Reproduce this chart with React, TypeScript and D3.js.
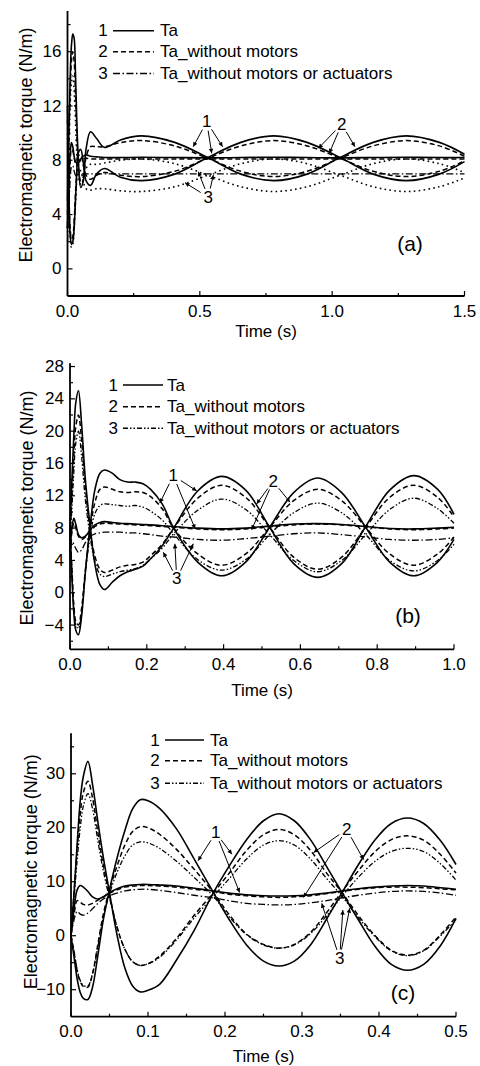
import React from 'react';
import * as d3 from 'd3';

// ---------------- DATA ----------------
const LEGEND_LABELS = ['Ta', 'Ta_without motors', 'Ta_without motors or actuators'];

// Panel (a)
const TIME_A = [0, 0.005, 0.01, 0.015, 0.02, 0.025, 0.03, 0.035, 0.04, 0.05, 0.06, 0.07, 0.087, 0.11, 0.14, 0.2, 0.28, 0.405, 0.53, 0.655, 0.78, 0.905, 1.03, 1.155, 1.28, 1.405, 1.5];
const A_TA_1 = [5, 10, 14, 16.5, 17.3, 17.0, 14.5, 11, 8.5, 6.0, 6.5, 8.8, 10.1, 9.6, 8.95, 9.5, 9.8, 9.32, 8.2, 6.98, 6.5, 6.98, 8.2, 9.32, 9.8, 9.32, 8.45];
const A_TA_2 = [12, 6, 2.5, 1.8, 2.0, 3.0, 5.0, 7.0, 8.5, 8.8, 7.8, 6.5, 6.15, 7.0, 7.4, 6.75, 6.5, 6.98, 8.2, 9.32, 9.8, 9.32, 8.2, 6.98, 6.5, 6.98, 7.9];
const A_TA_3 = [3, 6, 8.5, 9.3, 9.0, 8.3, 7.9, 7.8, 7.9, 8.1, 8.3, 8.4, 8.3, 8.25, 8.2, 8.2, 8.22, 8.2, 8.18, 8.2, 8.22, 8.2, 8.18, 8.2, 8.22, 8.2, 8.2];
const A_WM_1 = [4, 9, 13, 15.3, 16.0, 15.3, 13, 10, 8, 6.5, 6.8, 8.2, 9.0, 9.0, 9.0, 9.3, 9.45, 9.06, 8.15, 7.19, 6.8, 7.19, 8.15, 9.06, 9.45, 9.06, 8.3];
const A_WM_2 = [11, 6, 3, 2.2, 2.4, 3.5, 5.5, 7.2, 8.3, 8.4, 7.6, 6.9, 6.6, 6.9, 7.1, 6.9, 6.8, 7.19, 8.15, 9.06, 9.45, 9.06, 8.15, 7.19, 6.8, 7.19, 7.95];
const A_WM_3 = [3, 5.5, 7.8, 8.8, 8.7, 8.2, 7.8, 7.7, 7.8, 8.0, 8.1, 8.15, 8.1, 8.1, 8.1, 8.1, 8.1, 8.1, 8.1, 8.1, 8.1, 8.1, 8.1, 8.1, 8.1, 8.1, 8.1];
const A_WMA_1 = [3, 8, 12, 13.8, 14.2, 13.2, 11, 8.5, 7, 6.2, 6.5, 7.4, 7.7, 7.7, 7.8, 8.0, 8.1, 7.75, 6.9, 6.05, 5.7, 6.05, 6.9, 7.75, 8.1, 7.75, 7.1];
const A_WMA_2 = [10, 5, 2.5, 1.6, 1.8, 3, 4.8, 6.5, 7.4, 7.2, 6.4, 5.9, 5.8, 5.9, 5.9, 5.75, 5.7, 6.05, 6.9, 7.75, 8.1, 7.75, 6.9, 6.05, 5.7, 6.05, 6.7];
const A_WMA_3 = [2, 4.5, 6.5, 7.5, 7.6, 7.2, 6.9, 6.8, 6.9, 7.0, 7.0, 7.0, 7.0, 7.0, 7.0, 7.0, 7.0, 7.0, 7.0, 7.0, 7.0, 7.0, 7.0, 7.0, 7.0, 7.0, 7.0];

// Panel (b)
const TIME_B = [0, 0.005, 0.01, 0.015, 0.022, 0.03, 0.04, 0.053, 0.065, 0.078, 0.09, 0.11, 0.13, 0.15, 0.17, 0.19, 0.21, 0.24, 0.27, 0.3325, 0.395, 0.4575, 0.52, 0.5825, 0.645, 0.7075, 0.77, 0.8325, 0.895, 0.9575, 1.0];
const B_TA_1 = [8, 14, 19.5, 23.5, 25.0, 21, 14, 8, 3.5, 1.0, 0.4, 1.3, 2.1, 2.6, 2.9, 3.3, 4.2, 5.8, 8.0, 12.6, 14.4, 12.7, 8.1, 3.6, 1.9, 3.6, 8.2, 12.7, 14.5, 12.8, 9.7];
const B_TA_2 = [8, 2, -2.5, -4.6, -5.2, -3, 2.5, 8.5, 12.8, 14.8, 15.2, 14.8, 14.0, 13.7, 13.7, 13.5, 12.8, 11.0, 8.0, 3.8, 2.1, 3.8, 8.1, 12.4, 14.2, 12.4, 8.1, 3.8, 2.1, 3.8, 6.6];
const B_TA_3 = [5, 8, 9.2, 8.5, 7.2, 6.8, 7.0, 7.8, 8.4, 8.7, 8.8, 8.7, 8.6, 8.55, 8.5, 8.45, 8.4, 8.3, 8.2, 8.0, 7.9, 8.0, 8.25, 8.5, 8.55, 8.45, 8.2, 7.95, 7.9, 8.0, 8.1];
const B_WM_1 = [7, 12, 17, 20.5, 22.0, 19, 13, 7.5, 4.5, 2.9, 2.5, 2.8, 3.2, 3.4, 3.5, 3.8, 4.6, 6.0, 8.0, 11.7, 13.3, 11.8, 8.1, 4.4, 2.9, 4.4, 8.1, 11.8, 13.3, 11.8, 9.4];
const B_WM_2 = [8, 3, -1.5, -3.5, -4.0, -2, 2.8, 8.0, 11.2, 12.8, 13.1, 12.8, 12.5, 12.4, 12.5, 12.4, 11.9, 10.4, 8.0, 4.8, 3.4, 4.8, 8.1, 11.4, 12.8, 11.4, 8.1, 4.8, 3.4, 4.8, 6.9];
const B_WM_3 = [5, 7.5, 8.6, 8.0, 7.0, 6.6, 6.9, 7.6, 8.2, 8.5, 8.6, 8.55, 8.5, 8.45, 8.4, 8.35, 8.3, 8.2, 8.1, 7.9, 7.8, 7.9, 8.15, 8.4, 8.5, 8.4, 8.15, 7.9, 7.8, 7.9, 8.0];
const B_WMA_1 = [6, 10.5, 15, 18.5, 20.0, 17, 11.5, 6.8, 3.8, 2.3, 2.0, 2.3, 2.6, 2.8, 3.0, 3.4, 4.2, 5.5, 7.3, 10.2, 11.6, 10.3, 7.2, 4.0, 2.6, 4.0, 7.2, 10.3, 11.7, 10.4, 8.6];
const B_WMA_2 = [7, 2.5, -2, -4, -4.4, -2.5, 2.5, 7.2, 9.8, 10.8, 11.0, 10.9, 10.8, 10.7, 10.8, 10.6, 10.1, 9.0, 7.3, 4.1, 2.8, 4.1, 7.2, 9.9, 11.1, 9.9, 7.2, 4.0, 2.7, 4.0, 6.0];
const B_WMA_3 = [4, 6.5, 6.0, 5.5, 5.0, 5.3, 6.2, 7.0, 7.3, 7.4, 7.5, 7.5, 7.5, 7.4, 7.4, 7.3, 7.2, 7.0, 6.9, 6.6, 6.5, 6.7, 7.0, 7.3, 7.4, 7.2, 6.9, 6.6, 6.5, 6.6, 6.8];

// Panel (c)
const TIME_C = [0, 0.004, 0.008, 0.012, 0.016, 0.022, 0.028, 0.035, 0.042, 0.05, 0.06, 0.07, 0.08, 0.09, 0.1, 0.115, 0.137, 0.16, 0.185, 0.205, 0.228, 0.25, 0.27, 0.29, 0.311, 0.332, 0.352, 0.373, 0.395, 0.416, 0.437, 0.458, 0.48, 0.5];
const C_TA_1 = [0, 8, 17, 25, 29.5, 32.3, 28, 21, 14.5, 8.0, 0, -6, -9.3, -10.4, -10.1, -9.0, -4.5, 1.0, 8.0, 12.8, 17.8, 21.3, 22.6, 21.3, 17.8, 12.8, 8.0, 3.0, -2.0, -5.3, -6.4, -5.3, -1.8, 3.2];
const C_TA_2 = [0, -4, -8, -10.5, -11.6, -11.8, -9.5, -3.5, 3.0, 8.5, 14.5, 19.5, 23.5, 25.2, 25.0, 23.6, 19.8, 14.2, 8.0, 3.1, -1.7, -4.7, -5.6, -4.7, -1.7, 3.1, 8.0, 13.1, 17.8, 20.8, 21.8, 20.8, 17.6, 13.2];
const C_TA_3 = [0, 5, 8.5, 9.3, 9.0, 8.2, 7.2, 6.8, 7.2, 8.0, 8.7, 9.2, 9.4, 9.5, 9.5, 9.4, 9.2, 8.8, 8.3, 7.9, 7.6, 7.4, 7.35, 7.4, 7.6, 7.9, 8.3, 8.7, 9.0, 9.2, 9.3, 9.2, 8.9, 8.6];
const C_WM_1 = [0, 8, 16, 22.5, 26.5, 28.6, 25.5, 19, 13, 7.5, 1.5, -2.5, -4.8, -5.5, -5.2, -3.8, -0.5, 3.8, 8.0, 11.5, 15.8, 18.7, 19.7, 18.7, 15.8, 11.6, 8.0, 3.8, 0.0, -2.7, -3.6, -2.7, 0.2, 3.5];
const C_WM_2 = [0, -3, -6.5, -8.5, -9.4, -9.5, -7, -1.5, 4.0, 8.5, 13, 16.8, 19.3, 20.2, 20.0, 18.8, 16.0, 12.3, 8.0, 4.0, 0.3, -1.6, -2.3, -1.6, 0.6, 4.3, 8.2, 12.0, 15.6, 17.8, 18.5, 17.7, 15.0, 11.6];
const C_WM_3 = [0, 4, 6.5, 6.2, 5.8, 5.7, 6.0, 6.6, 7.2, 7.9, 8.5, 9.0, 9.2, 9.3, 9.3, 9.2, 9.0, 8.6, 8.2, 7.7, 7.4, 7.2, 7.1, 7.2, 7.4, 7.8, 8.2, 8.6, 8.9, 9.0, 9.0, 8.9, 8.7, 8.5];
const C_WMA_1 = [0, 7, 14, 20, 24, 26.3, 23.5, 17.5, 12, 7.0, 1.5, -2.5, -4.8, -5.5, -5.2, -4.0, -0.8, 3.3, 7.3, 10.5, 14.2, 16.8, 17.6, 16.8, 14.2, 10.6, 7.3, 3.4, -0.2, -2.8, -3.7, -2.8, 0.0, 3.0];
const C_WMA_2 = [0, -3, -6.3, -8.3, -9.2, -9.3, -7, -2, 3.5, 7.8, 11.8, 14.8, 16.8, 17.4, 17.2, 16.2, 13.8, 10.8, 7.3, 3.6, 0.2, -1.7, -2.3, -1.7, 0.4, 3.7, 7.3, 10.8, 13.8, 15.6, 16.2, 15.6, 13.3, 10.3];
const C_WMA_3 = [0, 3, 4.5, 4.0, 3.8, 4.2, 5.0, 6.0, 6.8, 7.4, 7.9, 8.3, 8.5, 8.6, 8.6, 8.4, 8.0, 7.5, 7.0, 6.5, 6.0, 5.8, 5.7, 5.8, 6.1, 6.5, 7.0, 7.5, 7.9, 8.2, 8.3, 8.2, 7.9, 7.5];

// Ticks
const A_X_TICKS = [0, 0.5, 1.0, 1.5];
const A_X_MINOR = [0.25, 0.75, 1.25];
const A_Y_TICKS = [0, 4, 8, 12, 16];
const A_Y_MINOR = [2, 6, 10, 14, 18];
const B_X_TICKS = [0, 0.2, 0.4, 0.6, 0.8, 1.0];
const B_X_MINOR = [0.1, 0.3, 0.5, 0.7, 0.9];
const B_Y_TICKS = [-4, 0, 4, 8, 12, 16, 20, 24, 28];
const B_Y_MINOR = [-6, -2, 2, 6, 10, 14, 18, 22, 26];
const C_X_TICKS = [0, 0.1, 0.2, 0.3, 0.4, 0.5];
const C_X_MINOR = [0.05, 0.15, 0.25, 0.35, 0.45];
const C_Y_TICKS = [-10, 0, 10, 20, 30];
const C_Y_MINOR = [-5, 5, 15, 25, 35];

// Annotations (data units): label position and arrow targets
const A_NOTES = [
  { text: '1', at: [0.526, 10.84], to: [[0.475, 9.0], [0.545, 8.51], [0.586, 9.0]] },
  { text: '2', at: [1.036, 10.67], to: [[0.948, 8.88], [0.989, 8.51], [1.086, 9.0]] },
  { text: '3', at: [0.532, 5.27], to: [[0.444, 6.35], [0.494, 7.16], [0.551, 6.92]] },
];
const B_NOTES = [
  { text: '1', at: [0.269, 14.5], to: [[0.234, 11.1], [0.326, 7.9], [0.33, 12.6]] },
  { text: '2', at: [0.529, 13.8], to: [[0.486, 11.0], [0.473, 7.8], [0.573, 11.2]] },
  { text: '3', at: [0.278, 1.73], to: [[0.243, 5.0], [0.273, 6.06], [0.321, 6.06]] },
];
const C_NOTES = [
  { text: '1', at: [0.188, 19.1], to: [[0.165, 13.9], [0.219, 8.0], [0.209, 15.1]] },
  { text: '2', at: [0.358, 19.7], to: [[0.315, 15.4], [0.302, 7.1], [0.38, 14.1]] },
  { text: '3', at: [0.349, -4.2], to: [[0.3256, 6.0], [0.353, 4.76], [0.362, 5.1]] },
];

// ---------------- STYLE ----------------
const FONT = "'Liberation Sans', Arial, Helvetica, sans-serif";
const STYLES: Record<string, { dash?: string; w: number }> = {
  solid: { w: 1.6 },
  dashed: { dash: '5,3', w: 1.5 },
  dotted: { dash: '1.6,3.3', w: 1.6 },
  dashdot: { dash: '7,2.5,1.5,2.5', w: 1.3 },
  dashdotdot: { dash: '5,2,1.5,2,1.5,2', w: 1.3 },
};

type Note = { text: string; at: number[]; to: number[][] };
type Cfg = {
  time: number[];
  curves: { v: number[]; s: string }[];
  xDomain: [number, number]; yDomain: [number, number];
  xRange: [number, number]; yRange: [number, number];
  xTicks: number[]; xMinor: number[]; yTicks: number[]; yMinor: number[];
  yLabel: [number, number]; xLabelY: number;
  legend: { numX: number; l1: number; l2: number; tx: number; ys: number[]; s3: string };
  letter: { t: string; x: number; y: number };
  notes: Note[];
};

const PANELS: Cfg[] = [
  {
    time: TIME_A,
    curves: [
      { v: A_WMA_3, s: 'dashdot' }, { v: A_WMA_1, s: 'dotted' }, { v: A_WMA_2, s: 'dotted' },
      { v: A_WM_3, s: 'dashed' }, { v: A_WM_1, s: 'dashed' }, { v: A_WM_2, s: 'dashed' },
      { v: A_TA_3, s: 'solid' }, { v: A_TA_1, s: 'solid' }, { v: A_TA_2, s: 'solid' },
    ],
    xDomain: [0, 1.5], yDomain: [-2, 19], xRange: [67.5, 464.5], yRange: [296, 11],
    xTicks: A_X_TICKS, xMinor: A_X_MINOR, yTicks: A_Y_TICKS, yMinor: A_Y_MINOR,
    yLabel: [26, 145], xLabelY: 331,
    legend: { numX: 103, l1: 113, l2: 154, tx: 160, ys: [30.7, 51.7, 73.5], s3: 'dashdot' },
    letter: { t: '(a)', x: 410, y: 243 },
    notes: A_NOTES,
  },
  {
    time: TIME_B,
    curves: [
      { v: B_WMA_3, s: 'dashdot' }, { v: B_WMA_1, s: 'dashdotdot' }, { v: B_WMA_2, s: 'dashdotdot' },
      { v: B_WM_3, s: 'dashed' }, { v: B_WM_1, s: 'dashed' }, { v: B_WM_2, s: 'dashed' },
      { v: B_TA_3, s: 'solid' }, { v: B_TA_1, s: 'solid' }, { v: B_TA_2, s: 'solid' },
    ],
    xDomain: [0, 1.0], yDomain: [-7, 28.4], xRange: [70, 454], yRange: [649.3, 363.3],
    xTicks: B_X_TICKS, xMinor: B_X_MINOR, yTicks: B_Y_TICKS, yMinor: B_Y_MINOR,
    yLabel: [26.5, 508], xLabelY: 690,
    legend: { numX: 113.3, l1: 123, l2: 163, tx: 167, ys: [385, 406.7, 428.3], s3: 'dashdotdot' },
    letter: { t: '(b)', x: 408, y: 615 },
    notes: B_NOTES,
  },
  {
    time: TIME_C,
    curves: [
      { v: C_WMA_3, s: 'dashdot' }, { v: C_WMA_1, s: 'dashdotdot' }, { v: C_WMA_2, s: 'dashdotdot' },
      { v: C_WM_3, s: 'dashed' }, { v: C_WM_1, s: 'dashed' }, { v: C_WM_2, s: 'dashed' },
      { v: C_TA_3, s: 'solid' }, { v: C_TA_1, s: 'solid' }, { v: C_TA_2, s: 'solid' },
    ],
    xDomain: [0, 0.5], yDomain: [-15, 37.5], xRange: [71, 456], yRange: [1016.7, 733.3],
    xTicks: C_X_TICKS, xMinor: C_X_MINOR, yTicks: C_Y_TICKS, yMinor: C_Y_MINOR,
    yLabel: [31, 871.7], xLabelY: 1056,
    legend: { numX: 155, l1: 165, l2: 204, tx: 210, ys: [740, 760.7, 783.3], s3: 'dashdotdot' },
    letter: { t: '(c)', x: 403, y: 992 },
    notes: C_NOTES,
  },
];

const fmtX = d3.format('.1f');
const fmtY = d3.format('d');

function Panel({ cfg }: { cfg: Cfg }) {
  const x = d3.scaleLinear().domain(cfg.xDomain).range(cfg.xRange);
  const y = d3.scaleLinear().domain(cfg.yDomain).range(cfg.yRange);
  const gen = d3
    .line<number>()
    .x((_, i) => x(cfg.time[i]))
    .y((d) => y(d))
    .curve(d3.curveCatmullRom.alpha(0.5));
  const x0 = cfg.xRange[0];
  const yb = cfg.yRange[0];
  const fs = 17;
  return (
    <g>
      {cfg.curves.map((c, i) => (
        <path key={i} d={gen(c.v) || ''} fill="none" stroke="#000"
          strokeWidth={STYLES[c.s].w} strokeDasharray={STYLES[c.s].dash} strokeLinejoin="round" />
      ))}
      {/* axes */}
      <line x1={x0} x2={x0} y1={yb} y2={cfg.yRange[1]} stroke="#000" strokeWidth={1.8} />
      <line x1={x0} x2={cfg.xRange[1]} y1={yb} y2={yb} stroke="#000" strokeWidth={1.8} />
      {cfg.yTicks.map((t) => (
        <g key={'yt' + t}>
          <line x1={x0} x2={x0 + 5} y1={y(t)} y2={y(t)} stroke="#000" strokeWidth={1.2} />
          <text x={x0 - 6} y={y(t)} textAnchor="end" dominantBaseline="central" fontSize={fs} fontFamily={FONT}>{fmtY(t)}</text>
        </g>
      ))}
      {cfg.yMinor.map((t) => (
        <line key={'ym' + t} x1={x0} x2={x0 + 3} y1={y(t)} y2={y(t)} stroke="#000" strokeWidth={1.2} />
      ))}
      {cfg.xTicks.map((t) => (
        <g key={'xt' + t}>
          <line x1={x(t)} x2={x(t)} y1={yb} y2={yb - 5} stroke="#000" strokeWidth={1.2} />
          <text x={x(t)} y={yb + 15} textAnchor="middle" dominantBaseline="central" fontSize={fs} fontFamily={FONT}>{fmtX(t)}</text>
        </g>
      ))}
      {cfg.xMinor.map((t) => (
        <line key={'xm' + t} x1={x(t)} x2={x(t)} y1={yb} y2={yb - 3} stroke="#000" strokeWidth={1.2} />
      ))}
      <text transform={`translate(${cfg.yLabel[0]},${cfg.yLabel[1]}) rotate(-90)`} textAnchor="middle"
        dominantBaseline="central" fontSize={18} fontFamily={FONT}>Electromagnetic torque (N/m)</text>
      <text x={(cfg.xRange[0] + cfg.xRange[1]) / 2} y={cfg.xLabelY} textAnchor="middle" dominantBaseline="central"
        fontSize={fs} fontFamily={FONT}>Time (s)</text>
      {/* legend */}
      {LEGEND_LABELS.map((lab, i) => {
        const st = STYLES[i === 0 ? 'solid' : i === 1 ? 'dashed' : cfg.legend.s3];
        const yy = cfg.legend.ys[i];
        return (
          <g key={'lg' + i}>
            <text x={cfg.legend.numX} y={yy} textAnchor="middle" dominantBaseline="central" fontSize={fs} fontFamily={FONT}>{i + 1}</text>
            <line x1={cfg.legend.l1} x2={cfg.legend.l2} y1={yy} y2={yy} stroke="#000" strokeWidth={1.4} strokeDasharray={st.dash} />
            <text x={cfg.legend.tx} y={yy} dominantBaseline="central" fontSize={fs} fontFamily={FONT}>{lab}</text>
          </g>
        );
      })}
      <text x={cfg.letter.x} y={cfg.letter.y} textAnchor="middle" dominantBaseline="central" fontSize={21} fontFamily={FONT}>{cfg.letter.t}</text>
      {/* annotations */}
      {cfg.notes.map((n, k) => {
        const lx = x(n.at[0]);
        const ly = y(n.at[1]);
        return (
          <g key={'n' + k}>
            <text x={lx} y={ly} textAnchor="middle" dominantBaseline="central" fontSize={fs} fontFamily={FONT}>{n.text}</text>
            {n.to.map((p, j) => {
              const tx = x(p[0]);
              const ty = y(p[1]);
              const dx = tx - lx;
              const dy = ty - ly;
              const len = Math.sqrt(dx * dx + dy * dy) || 1;
              const sx = lx + (dx / len) * 9;
              const sy = ly + (dy / len) * 9;
              return <line key={j} x1={sx} y1={sy} x2={tx} y2={ty} stroke="#000" strokeWidth={1} markerEnd="url(#arrowhead)" />;
            })}
          </g>
        );
      })}
    </g>
  );
}

export default function App() {
  return (
    <svg width={480} height={1066} viewBox="0 0 480 1066"
      style={{ position: 'absolute', left: 0, top: 0, background: '#fff' }}>
      <defs>
        <marker id="arrowhead" viewBox="0 0 10 10" refX={10} refY={5} markerWidth={7} markerHeight={4.5}
          markerUnits="userSpaceOnUse" orient="auto">
          <path d="M0,0 L10,5 L0,10 z" fill="#000" />
        </marker>
      </defs>
      <rect x={0} y={0} width={480} height={1066} fill="#fff" />
      {PANELS.map((p, i) => (
        <Panel key={i} cfg={p} />
      ))}
    </svg>
  );
}
